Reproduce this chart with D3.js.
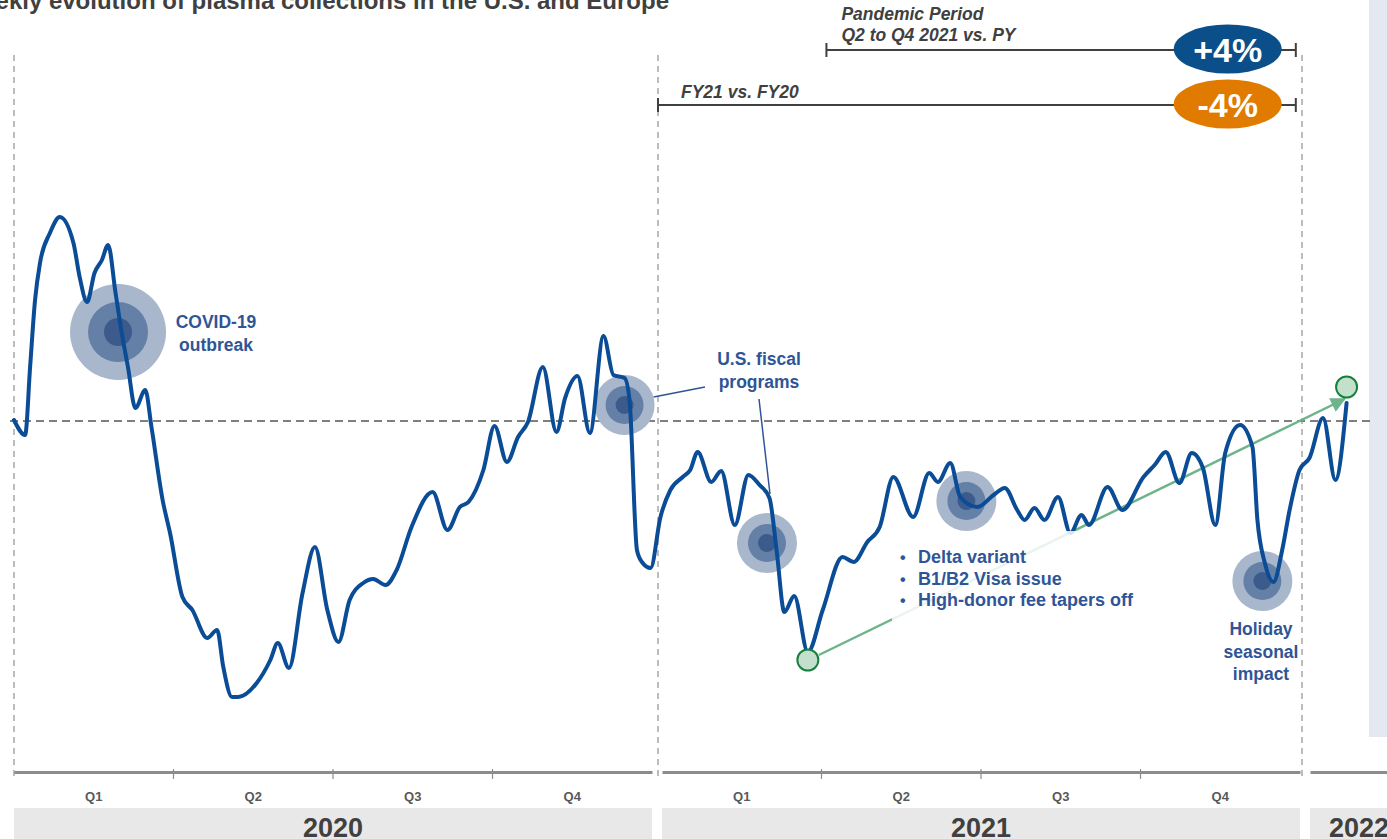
<!DOCTYPE html>
<html>
<head>
<meta charset="utf-8">
<script src="https://cdn.jsdelivr.net/npm/d3@7"></script>
<style>
  html, body { margin: 0; padding: 0; background: #fff; overflow: hidden; }
  svg { display: block; font-family: "Liberation Sans", Arial, sans-serif; }
</style>
</head>
<body>
<div id="chart"></div>
<script>
// weekly plasma collections, indexed (100 = pre-pandemic reference, dashed line)
// position = weeks since first week of 2020
const weekPos = [0.0, 0.9, 1.3, 1.7, 2.1, 2.9, 3.7, 4.8, 5.3, 5.9, 6.5, 7.1, 7.6, 8.2, 8.7, 9.2, 9.8, 10.6, 11.1,
  12.0, 12.6, 13.6, 14.4, 15.6, 16.4, 16.9, 17.6, 18.1, 19.6, 20.7, 21.3, 22.2, 23.3, 24.3, 25.3, 26.2, 27.1,
  28.2, 29.0, 30.0, 30.9, 32.1, 33.8, 35.0, 36.0, 36.7, 37.9, 38.8, 39.8, 40.7, 41.5, 42.7, 43.8, 44.5, 45.5,
  46.5, 47.6, 48.4, 49.3, 49.7, 50.3, 50.7, 51.4, 52.2, 53.0, 54.0, 54.6, 55.2, 56.3, 57.1, 58.2, 59.3, 60.2,
  61.0, 61.6, 62.2, 63.0, 64.1, 65.3, 66.9, 67.8, 68.9, 69.9, 71.0, 72.6, 73.9, 74.6, 75.6, 76.4, 77.8, 79.1,
  80.0, 81.0, 81.6, 82.4, 83.2, 84.3, 85.3, 86.2, 86.8, 88.3, 89.5, 91.2, 92.1, 93.0, 94.1, 95.1, 96.0, 97.0,
  97.8, 99.0, 100.0, 100.4, 101.0, 101.7, 102.4, 103.0, 103.8, 104.6, 105.7, 106.7, 107.6];
const plasmaIdx = [100.1, 98.6, 105.4, 112.1, 115.8, 118.8, 120.4, 117.8, 114.4, 111.9, 114.8, 116.1, 117.6, 112.8,
  108.8, 105.4, 101.3, 103.1, 99.4, 92.1, 88.8, 82.4, 81.1, 78.3, 79.1, 75.4, 72.4, 72.4, 73.8, 76.1, 77.8, 75.3,
  82.8, 87.4, 81.1, 77.9, 82.1, 83.8, 84.2, 83.6, 85.1, 89.4, 92.9, 89.1, 91.4, 91.9, 95.1, 99.5, 95.9, 98.4,
  99.9, 105.4, 98.9, 102.3, 104.5, 98.8, 108.5, 104.6, 104.3, 102.1, 87.1, 85.9, 85.3, 90.4, 93.1, 94.4, 95.1,
  96.9, 93.9, 95.0, 89.6, 94.6, 93.6, 92.3, 86.8, 80.9, 82.5, 76.9, 81.1, 86.4, 85.9, 87.9, 89.4, 94.4, 90.4,
  94.8, 93.9, 95.8, 92.4, 91.4, 92.6, 93.3, 91.1, 90.1, 91.3, 90.1, 92.4, 88.8, 90.6, 89.6, 93.4, 91.1, 94.4,
  95.6, 96.9, 93.8, 96.8, 95.3, 89.6, 96.8, 99.6, 97.4, 90.1, 85.8, 83.9, 87.1, 91.1, 95.1, 96.3, 100.3, 94.1,
  101.8];

const years = ["2020", "2021", "2022"];
const quarters = ["Q1", "Q2", "Q3", "Q4"];
const baseline = 100;

// top summary brackets
const bracketText = [["Pandemic Period", "Q2 to Q4 2021 vs. PY"], ["FY21 vs. FY20"]];
const bracketFrom = [65.6, 52.0];
const bracketTo = [103.5, 103.5];
const bracketChange = ["+4%", "-4%"];
const bracketColor = ["#0b4f8a", "#e07b00"];

// highlighted events (bubbles)
const eventWeek = [8.4, 49.3, 60.8, 76.9, 100.8];
const eventIdx = [108.9, 101.6, 87.8, 92.0, 84.0];
const eventBig = [true, false, false, false, false];

// recovery trend from 2021 low to latest week
const trendWeek = [64.1, 107.6];
const trendIdx = [76.1, 103.4];

const W = 1387, H = 839;
const svg = d3.select("#chart").append("svg").attr("width", W).attr("height", H);

const x = d3.scaleLinear().domain([0, 104]).range([14, 1302]);
const y = d3.scaleLinear().domain([100, 120]).range([421, 221]);
const yearBand = d3.scaleBand().domain(years).range([14, 1948]).paddingInner(10 / 648);
const axisY = 772;

const darkText = "#404040";
const noteBlue = "#2f5597";

// right side panel
svg.append("rect").attr("x", 1369).attr("y", 0).attr("width", 30).attr("height", 737).attr("fill", "#e4e8f0");

// title (cut at left edge like the slide)
svg.append("text")
  .attr("x", 669).attr("y", 9).attr("text-anchor", "end")
  .attr("font-size", 24).attr("font-weight", "bold").attr("fill", darkText)
  .text("Weekly evolution of plasma collections in the U.S. and Europe");

// year separators
[0, 52, 104].forEach(w => {
  svg.append("line")
    .attr("x1", x(w)).attr("x2", x(w)).attr("y1", 55).attr("y2", 776)
    .attr("stroke", "#a6a6a6").attr("stroke-width", 1.5).attr("stroke-dasharray", "6,5");
});

// reference line
svg.append("line")
  .attr("x1", 10).attr("x2", 1370).attr("y1", y(baseline)).attr("y2", y(baseline))
  .attr("stroke", "#7f7f7f").attr("stroke-width", 2).attr("stroke-dasharray", "8,5");

// brackets
bracketText.forEach((lines, i) => {
  const by = i === 0 ? 50 : 105;
  const x1 = x(bracketFrom[i]), x2 = x(bracketTo[i]);
  const g = svg.append("g");
  g.append("line").attr("x1", x1).attr("x2", x2).attr("y1", by).attr("y2", by)
    .attr("stroke", darkText).attr("stroke-width", 2);
  [x1, x2].forEach(xx => g.append("line").attr("x1", xx).attr("x2", xx)
    .attr("y1", by - 7).attr("y2", by + 7).attr("stroke", darkText).attr("stroke-width", 2));
  lines.forEach((t, j) => {
    g.append("text")
      .attr("x", x1 + (i === 0 ? 15 : 23))
      .attr("y", by - 7 - (lines.length - 1 - j) * 21 - (i === 0 ? 2 : 0))
      .attr("font-size", 17.5).attr("font-weight", "bold").attr("font-style", "italic")
      .attr("fill", darkText).text(t);
  });
  const cx = x(98);
  g.append("ellipse").attr("cx", cx).attr("cy", by - 1).attr("rx", 54).attr("ry", 24.5)
    .attr("fill", bracketColor[i]);
  g.append("text").attr("x", cx).attr("y", by + 12).attr("text-anchor", "middle")
    .attr("font-size", 34).attr("font-weight", "bold").attr("fill", "#fff")
    .text(bracketChange[i]);
});

// event bubbles (under the line)
const ringCols = ["#a8b7cc", "#6480a6", "#3c5a8c"];
eventWeek.forEach((w, i) => {
  const radii = eventBig[i] ? [48, 30, 14] : [30, 19, 9];
  radii.forEach((r, k) => {
    svg.append("circle").attr("cx", x(w)).attr("cy", y(eventIdx[i])).attr("r", r).attr("fill", ringCols[k]);
  });
});

// leader lines for U.S. fiscal programs
svg.append("path")
  .attr("d", `M${x(eventWeek[1]) + 29},${y(eventIdx[1]) - 8} L705,387 M759,399 L770,494`)
  .attr("stroke", noteBlue).attr("stroke-width", 1.5).attr("fill", "none");

// trend arrow
const tx1 = x(trendWeek[0]), ty1 = y(trendIdx[0]);
const tx2 = x(trendWeek[1]), ty2 = y(trendIdx[1]);
const defs = svg.append("defs");
defs.append("marker").attr("id", "arrowHead").attr("viewBox", "0 0 10 10")
  .attr("refX", 9).attr("refY", 5).attr("markerWidth", 6.5).attr("markerHeight", 6)
  .attr("markerUnits", "strokeWidth").attr("orient", "auto")
  .append("path").attr("d", "M0,0 L10,5 L0,10 z").attr("fill", "#6db48a");

// data line
const pts = weekPos.map((w, i) => [w, plasmaIdx[i]]);
const line = d3.line().x(d => x(d[0])).y(d => y(d[1])).curve(d3.curveMonotoneX);

svg.append("line")
  .attr("x1", tx1 + 11).attr("y1", ty1 - 5).attr("x2", tx2 - 2).attr("y2", ty2 + 12)
  .attr("stroke", "#6db48a").attr("stroke-width", 2.5).attr("marker-end", "url(#arrowHead)");

svg.append("path").datum(pts).attr("d", line)
  .attr("fill", "none").attr("stroke", "#0a4c95").attr("stroke-width", 4)
  .attr("stroke-linejoin", "round").attr("stroke-linecap", "round");

// semi-transparent text box of the bullets
svg.append("rect").attr("x", 892).attr("y", 531).attr("width", 258).attr("height", 92)
  .attr("fill", "#fff").attr("opacity", 0.85);

[[tx1, ty1], [tx2, ty2]].forEach(d => {
  svg.append("circle").attr("cx", d[0]).attr("cy", d[1]).attr("r", 10.5)
    .attr("fill", "#c3e0cc").attr("stroke", "#17803c").attr("stroke-width", 2);
});

// annotation texts
function note(lines, cx, y0, anchor) {
  const t = svg.append("text").attr("font-size", 17.5).attr("font-weight", "bold")
    .attr("fill", noteBlue).attr("text-anchor", anchor || "middle");
  lines.forEach((s, i) => t.append("tspan").attr("x", cx).attr("y", y0 + i * 22.5).text(s));
}
note(["COVID-19", "outbreak"], 216, 328);
note(["U.S. fiscal", "programs"], 759, 365);
note(["Holiday", "seasonal", "impact"], 1261, 635);

const bullets = ["Delta variant", "B1/B2 Visa issue", "High-donor fee tapers off"];
bullets.forEach((b, i) => {
  svg.append("text").attr("x", 900).attr("y", 563 + i * 21.5).attr("font-size", 16)
    .attr("font-weight", "bold").attr("fill", noteBlue).text("\u2022");
  svg.append("text").attr("x", 918).attr("y", 563 + i * 21.5).attr("font-size", 18)
    .attr("font-weight", "bold").attr("fill", noteBlue).text(b);
});

// x axes per year
years.forEach((yr, yi) => {
  const x0 = yearBand(yr), bw = yearBand.bandwidth();
  const q = d3.scaleBand().domain(quarters).range([x0, x0 + bw]);
  const gAx = svg.append("g").attr("transform", `translate(0,${axisY})`)
    .call(d3.axisBottom(q).tickSize(0).tickSizeOuter(0).tickPadding(20));
  gAx.select(".domain").attr("stroke", "#8c8c8c").attr("stroke-width", 3);
  gAx.selectAll(".tick text").attr("font-size", 13).attr("font-weight", "bold")
    .attr("fill", "#595959").attr("font-family", "Liberation Sans, Arial, sans-serif")
    .style("display", yi < 2 ? null : "none");
  quarters.slice(1).forEach(qq => {
    gAx.append("line").attr("x1", q(qq)).attr("x2", q(qq)).attr("y1", -3).attr("y2", 7)
      .attr("stroke", "#8c8c8c").attr("stroke-width", 1.2);
  });
  svg.append("rect").attr("x", x0).attr("y", 808).attr("width", bw).attr("height", 40)
    .attr("fill", "#e9e8e8");
  // last (current) year only shows its first weeks: label near its start
  const last = yi === years.length - 1;
  svg.append("text").attr("x", last ? x0 + 19 : x0 + bw / 2).attr("y", 837)
    .attr("text-anchor", last ? "start" : "middle")
    .attr("font-size", 27).attr("font-weight", "bold").attr("fill", darkText).text(yr);
});
</script>
</body>
</html>
